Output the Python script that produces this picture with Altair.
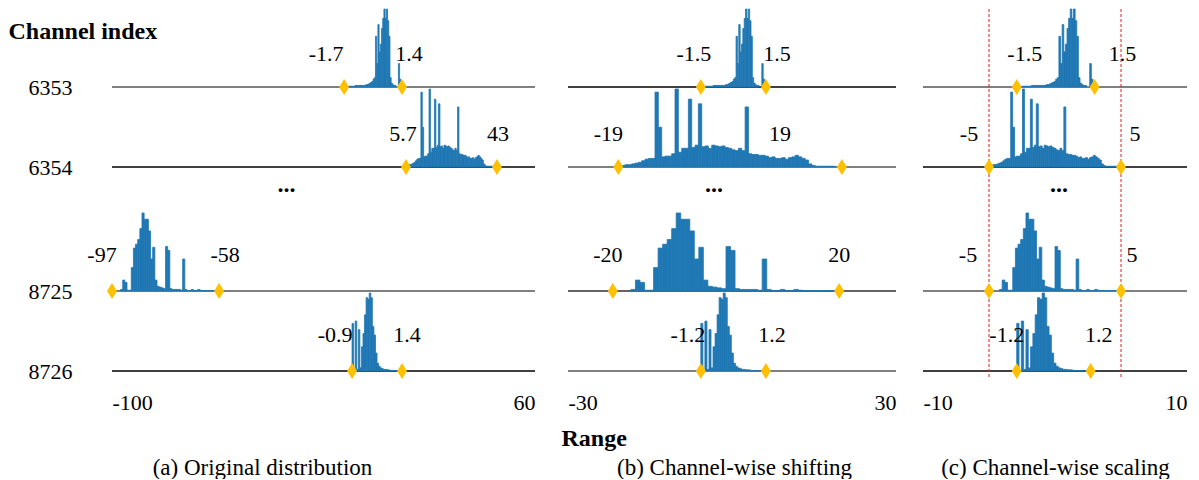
import altair as alt
import pandas as pd

# ---------------- data ----------------
CHANNELS = ["6353", "6354", "8725", "8726"]
CAPTIONS = ["(a) Original distribution", "(b) Channel-wise shifting", "(c) Channel-wise scaling"]
DOMAINS = [[-100, 60], [-30, 30], [-10, 10]]
TICKS = [[-100, 60], [-30, 30], [-10, 10]]

# printed min / max values per panel and channel
MIN_LABELS = [["-1.7", "5.7", "-97", "-0.9"],
              ["-1.5", "-19", "-20", "-1.2"],
              ["-1.5", "-5", "-5", "-1.2"]]
MAX_LABELS = [["1.4", "43", "-58", "1.4"],
              ["1.5", "19", "20", "1.2"],
              ["1.5", "5", "5", "1.2"]]

# diamond (min / max marker) positions as drawn, in axis units (schematic figure)
MARK_LO = [[-12.2, 11.2, -100.0, -9.2],
           [-5.7, -20.8, -21.8, -5.7],
           [-2.9, -5.0, -5.0, -2.9]]
MARK_HI = [[9.7, 45.6, -59.5, 9.7],
           [6.2, 20.1, 19.6, 6.2],
           [3.0, 5.0, 5.0, 2.7]]

# clipping thresholds shown in panel (c)
THRESH = [-5, 5]

# histogram shapes (relative bar heights, % of peak), spanning min..max marker
SHAPE_6353 = [0, 0, 0, 1, 1, 1, 1, 1, 1, 2, 2, 2, 2, 2, 2, 2, 2, 2, 3, 3, 4, 5, 6, 7,
              10, 12, 65, 30, 80, 45, 55, 75, 88, 100, 88, 100, 85, 65, 12, 5, 3, 2, 2,
              0, 0, 30, 10, 0]
SHAPE_6354 = [0, 2, 3, 3, 4, 5, 6, 8, 10, 11, 11, 96, 51, 13, 14, 14, 17, 100, 19, 24,
              24, 87, 25, 28, 81, 26, 27, 24, 28, 27, 26, 27, 25, 24, 22, 21, 24, 21, 77,
              17, 16, 16, 15, 15, 14, 12, 13, 11, 11, 12, 10, 12, 13, 15, 13, 11, 9, 4, 2,
              1, 1, 1, 1, 1, 1, 0, 0]
SHAPE_8725 = [0, 0, 0, 0, 2, 14, 11, 1, 1, 30, 55, 60, 66, 80, 100, 92, 92, 77, 41, 56,
              14, 6, 5, 4, 3, 57, 52, 3, 2, 2, 2, 2, 1, 41, 2, 0.5, 0.5, 2, 0.5, 0.5, 2, 1,
              0.5, 0.5, 0.5, 0.5, 0.5, 0.5, 0.5, 0]
SHAPE_8726 = [61, 0, 64, 2, 53, 4, 31, 48, 72, 94, 92, 100, 94, 57, 46, 23, 10, 6, 4, 3,
              2, 2, 1.5, 1.5, 1, 0.5, 0.5, 0.5, 0.5, 0.5, 0, 0]
SHAPES = [SHAPE_6353, SHAPE_6354, SHAPE_8725, SHAPE_8726]

# ---------------- layout / style ----------------
WIDTHS = [423, 328, 264]
HEIGHT = 370
Y_DOMAIN = [-0.1, 4.525]
ROW_POS = [3.55, 2.55, 1.0, 0.0]     # baseline of each channel row
PEAK = 0.975                          # tallest bar, in row units
LABEL_RISE = [0.41, 0.41, 0.45, 0.45]
LABEL_DX = [[[-18, 7], [-3, 1], [-10, 6], [-17, 5]],
            [[-7, 11], [-10, -62], [-5, 0], [-13, 6]],
            [[8, 28], [-20, 14], [-21, 11], [-10, 8]]]
DOTS_X = [-34, -3.3, 0.3]
DOTS_Y = 2.24
BASE_COLORS = [["#808080", "#000000", "#808080", "#000000"],
               ["#000000", "#808080", "#303030", "#808080"],
               ["#808080", "#000000", "#808080", "#000000"]]
CAPTION_X = [150, 166, 132]
BAR_COLOR = "#1f77b4"
DIAMOND_COLOR = "#FFC000"
FONT = "Liberation Serif, Times New Roman, serif"
DIAMOND = "M0,-1L0.62,0L0,1L-0.62,0Z"


def panel(p):
    px_per_unit = WIDTHS[p] / (DOMAINS[p][1] - DOMAINS[p][0])
    xs = alt.Scale(domain=DOMAINS[p], nice=False, zero=False)
    ys = alt.Scale(domain=Y_DOMAIN, nice=False, zero=False)

    bars, base, marks, labels = [], [], [], []
    for r, shape in enumerate(SHAPES):
        lo, hi = MARK_LO[p][r], MARK_HI[p][r]
        w = (hi - lo) / len(shape)
        for i, h in enumerate(shape):
            if h > 0:
                bars.append(dict(x=lo + i * w, x2=lo + (i + 1) * w,
                                 y=ROW_POS[r], y2=ROW_POS[r] + h / 100 * PEAK))
        col = BASE_COLORS[p][r]
        base.append(dict(y=ROW_POS[r], c=col, sw=2.0 if col == "#808080" else 1.3))
        marks.append(dict(x=lo, y=ROW_POS[r]))
        marks.append(dict(x=hi, y=ROW_POS[r]))
        labels.append(dict(x=lo + LABEL_DX[p][r][0] / px_per_unit,
                           y=ROW_POS[r] + LABEL_RISE[r], t=MIN_LABELS[p][r]))
        labels.append(dict(x=hi + LABEL_DX[p][r][1] / px_per_unit,
                           y=ROW_POS[r] + LABEL_RISE[r], t=MAX_LABELS[p][r]))

    x_axis = alt.Axis(values=TICKS[p], labelExpr="'' + datum.value",
                      labelFlush=True, ticks=False, tickSize=0,
                      domain=False, grid=False, labelFont=FONT, labelFontSize=22,
                      labelColor="black", labelPadding=13,
                      title=CAPTIONS[p], titleFont=FONT, titleFontSize=23,
                      titleFontWeight="normal", titleColor="black",
                      titleX=CAPTION_X[p], titleY=88, titleAlign="center",
                      titleBaseline="middle")
    if p == 0:
        expr = "'" + CHANNELS[-1] + "'"
        for pos, ch in reversed(list(zip(ROW_POS[:-1], CHANNELS[:-1]))):
            expr = f"abs(datum.value - {pos}) < 0.01 ? '{ch}' : " + expr
        y_axis = alt.Axis(values=ROW_POS, labelExpr=expr, ticks=False, tickSize=0,
                          domain=False, grid=False, labelFont=FONT, labelFontSize=22,
                          labelColor="black", labelPadding=40, labelBaseline="middle",
                          title="Channel index", titleFont=FONT, titleFontSize=24,
                          titleFontWeight="bold", titleColor="black", titleAngle=0,
                          titleX=-104, titleY=22, titleAlign="left",
                          titleBaseline="middle")
    elif p == 1:
        y_axis = alt.Axis(labels=False, ticks=False, tickSize=0, domain=False,
                          grid=False, title="Range", titleFont=FONT, titleFontSize=24,
                          titleFontWeight="bold", titleColor="black", titleAngle=0,
                          titleX=-7, titleY=429, titleAlign="left",
                          titleBaseline="middle")
    else:
        y_axis = None

    X = lambda: alt.X("x:Q", scale=xs, axis=x_axis)
    Y = lambda: alt.Y("y:Q", scale=ys, axis=y_axis)

    base_layer = alt.Chart(pd.DataFrame(base)).mark_rule().encode(
        y=Y(),
        color=alt.Color("c:N", scale=None),
        strokeWidth=alt.StrokeWidth("sw:Q", scale=None),
    )
    bar_layer = alt.Chart(pd.DataFrame(bars)).mark_bar(
        color=BAR_COLOR, stroke=BAR_COLOR, strokeWidth=0.8
    ).encode(x=X(), x2="x2:Q", y=Y(), y2="y2:Q")
    mark_layer = alt.Chart(pd.DataFrame(marks)).mark_point(
        shape=DIAMOND, filled=True, size=256, color=DIAMOND_COLOR, opacity=1
    ).encode(x=X(), y=Y())
    text_layer = alt.Chart(pd.DataFrame(labels)).mark_text(
        font=FONT, fontSize=22, color="black", baseline="middle", align="center"
    ).encode(x=X(), y=Y(), text="t:N")
    dots_layer = alt.Chart(pd.DataFrame([dict(x=DOTS_X[p], y=DOTS_Y, t="...")])).mark_text(
        font=FONT, fontSize=24, fontWeight="bold", color="black",
        baseline="alphabetic", align="center"
    ).encode(x=X(), y=Y(), text="t:N")
    layers = [base_layer]
    if p == 2:
        thr = alt.Chart(pd.DataFrame({"x": THRESH})).mark_rule(
            color="#e41a1c", strokeDash=[3, 2], strokeWidth=1
        ).encode(x=X())
        layers.append(thr)
    layers += [bar_layer, mark_layer, text_layer, dots_layer]
    return alt.layer(*layers).properties(width=WIDTHS[p], height=HEIGHT)


chart = alt.hconcat(panel(0), panel(1), panel(2), spacing=25).properties(
    padding=0
).configure_view(stroke=None)

chart.save("out.html", embed_options={"renderer": "svg", "actions": False})
